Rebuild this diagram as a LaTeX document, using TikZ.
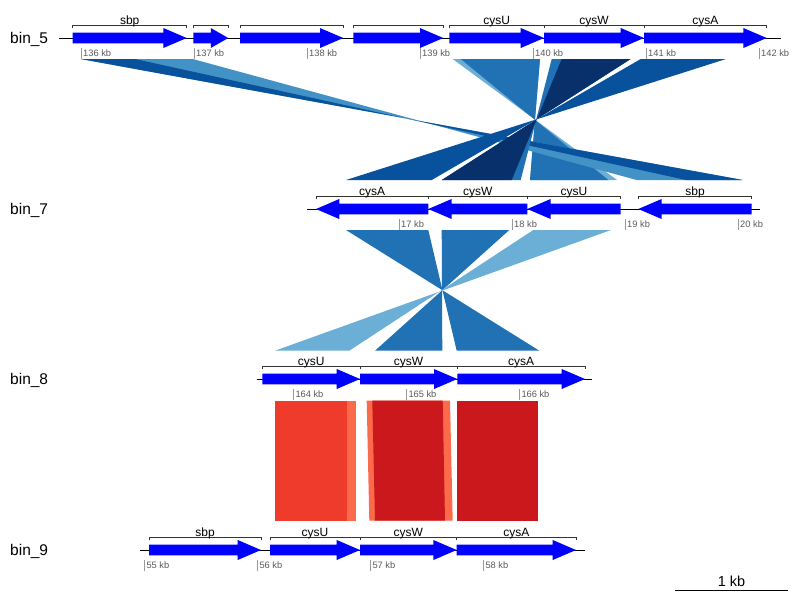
\documentclass[tikz,border=0pt]{standalone}
\usepackage{fontspec}
\setmainfont{Liberation Sans}

\definecolor{genefill}{RGB}{0,0,255}
\definecolor{bluea}{RGB}{8,48,107}
\definecolor{blueb}{RGB}{8,81,156}
\definecolor{bluec}{RGB}{33,113,181}
\definecolor{blued}{RGB}{66,146,198}
\definecolor{bluee}{RGB}{107,174,214}
\definecolor{reda}{RGB}{203,24,29}
\definecolor{redb}{RGB}{239,59,44}
\definecolor{redc}{RGB}{251,106,74}

\begin{document}
\begin{tikzpicture}[x=1pt, y=-1pt,
  trackline/.style={black, line width=0.9pt},
  genebrace/.style={black!80, line width=0.8pt},
  kbtick/.style={black!40, line width=1pt},
  kblabel/.style={anchor=base west, inner sep=0pt, text=black!65, font=\fontsize{9.3}{11}\selectfont},
  genelabel/.style={anchor=base, inner sep=0pt, font=\fontsize{12}{14}\selectfont},
  binlabel/.style={anchor=base west, inner sep=0pt, font=\fontsize{15.5}{18}\selectfont}]
\useasboundingbox (0,0) rectangle (800,600);

% Links bin_5 - bin_7
\fill[bluee] (452.7,59) -- (540,59) -- (530,180) -- (617,180) -- cycle;
\fill[bluec] (460.7,59) -- (540,59) -- (530,180) -- (608.3,180) -- cycle;
\fill[blued] (80.7,59) -- (192.7,59) -- (636.7,180) -- (742.7,180) -- cycle;
\fill[blueb] (80.7,59) -- (135,59) -- (686,180) -- (742.7,180) -- cycle;
\fill[bluec] (551.7,59) -- (630.7,59) -- (442,180) -- (520.7,180) -- cycle;
\fill[bluea] (561.7,59) -- (630.7,59) -- (441.7,180) -- (511.7,180) -- cycle;
\fill[blueb] (640.7,59) -- (726,59) -- (346,180) -- (431.7,180) -- cycle;

% Links bin_7 - bin_8
\fill[bluec] (346,230) -- (428.3,230) -- (456.7,350.7) -- (539.3,350.7) -- cycle;
\fill[bluec] (441.7,230) -- (509.3,230) -- (375,350.7) -- (442.3,350.7) -- cycle;
\fill[bluee] (533.3,230) -- (611,230) -- (275,350.7) -- (349.3,350.7) -- cycle;

% Links bin_8 - bin_9
\fill[redc] (275,400.7) rectangle (355.7,520.7);
\fill[redb] (275,400.7) rectangle (346.7,520.7);
\fill[redc] (366.7,400.7) -- (450,400.7) -- (452.7,520.7) -- (369.3,520.7) -- cycle;
\fill[reda] (372.3,400.7) -- (442.7,400.7) -- (445,520.7) -- (375,520.7) -- cycle;
\fill[reda] (456.7,400.7) rectangle (537.7,520.7);

% bin_5
\def\yy{38}
\node[binlabel] (bin5) at (10,\yy+5.7) {bin\_5};
\draw[trackline] (59.3,\yy) -- (780.7,\yy);
\foreach \a/\b/\lab [count=\i] in {72.7/186.7/sbp, 193.3/228.3/{}, 240/343.3/{}, 353.3/443.3/{}, 449.3/544/cysU, 544/644/cysW, 644/766.7/cysA} {
  \pgfmathsetmacro\h{min(23.3,(\b-\a)/2)}
  \fill[genefill] (\a,\yy-5.3) -- ({\b-\h},\yy-5.3) -- ({\b-\h},\yy-10) -- (\b,\yy) -- ({\b-\h},\yy+10) -- ({\b-\h},\yy+5.3) -- (\a,\yy+5.3) -- cycle;
  \draw[genebrace] (\a,\yy-9.7) -- (\a,\yy-12.3) -- (\b,\yy-12.3) -- (\b,\yy-9.7);
  \node[genelabel] (g5-\i) at ({(\a+\b)/2},\yy-14) {\lab};
}
\foreach \k in {136,...,142} {
  \pgfmathsetmacro\tx{81+113*(\k-136)}
  \draw[kbtick] (\tx,\yy+10.3) -- (\tx,\yy+21.3);
  \node[kblabel] (t5-\k) at (\tx+2,\yy+18.7) {\k{} kb};
}

% bin_7
\def\yy{209}
\node[binlabel] (bin7) at (10,\yy+5.7) {bin\_7};
\draw[trackline] (307,\yy) -- (760,\yy);
\foreach \a/\b/\lab [count=\i] in {316/428.3/cysA, 428.3/527.3/cysW, 527.3/620.7/cysU, 638.3/751.7/sbp} {
  \pgfmathsetmacro\h{min(23.3,(\b-\a)/2)}
  \fill[genefill] (\b,\yy-5.3) -- ({\a+\h},\yy-5.3) -- ({\a+\h},\yy-10) -- (\a,\yy) -- ({\a+\h},\yy+10) -- ({\a+\h},\yy+5.3) -- (\b,\yy+5.3) -- cycle;
  \draw[genebrace] (\a,\yy-9.7) -- (\a,\yy-12.3) -- (\b,\yy-12.3) -- (\b,\yy-9.7);
  \node[genelabel] (g7-\i) at ({(\a+\b)/2},\yy-14) {\lab};
}
\foreach \k in {17,...,20} {
  \pgfmathsetmacro\tx{399+113*(\k-17)}
  \draw[kbtick] (\tx,\yy+10.3) -- (\tx,\yy+21.3);
  \node[kblabel] (t7-\k) at (\tx+2,\yy+18.7) {\k{} kb};
}

% bin_8
\def\yy{379}
\node[binlabel] (bin8) at (10,\yy+5.7) {bin\_8};
\draw[trackline] (256.7,\yy) -- (591.7,\yy);
\foreach \a/\b/\lab [count=\i] in {262.3/360/cysU, 360/457.3/cysW, 457.3/585/cysA} {
  \pgfmathsetmacro\h{min(23.3,(\b-\a)/2)}
  \fill[genefill] (\a,\yy-5.3) -- ({\b-\h},\yy-5.3) -- ({\b-\h},\yy-10) -- (\b,\yy) -- ({\b-\h},\yy+10) -- ({\b-\h},\yy+5.3) -- (\a,\yy+5.3) -- cycle;
  \draw[genebrace] (\a,\yy-9.7) -- (\a,\yy-12.3) -- (\b,\yy-12.3) -- (\b,\yy-9.7);
  \node[genelabel] (g8-\i) at ({(\a+\b)/2},\yy-14) {\lab};
}
\foreach \k in {164,...,166} {
  \pgfmathsetmacro\tx{293.3+113*(\k-164)}
  \draw[kbtick] (\tx,\yy+10.3) -- (\tx,\yy+21.3);
  \node[kblabel] (t8-\k) at (\tx+2,\yy+18.7) {\k{} kb};
}

% bin_9
\def\yy{550}
\node[binlabel] (bin9) at (10,\yy+5.7) {bin\_9};
\draw[trackline] (140,\yy) -- (585,\yy);
\foreach \a/\b/\lab [count=\i] in {149/261/sbp, 270/360/cysU, 360/456.7/cysW, 456.7/576/cysA} {
  \pgfmathsetmacro\h{min(23.3,(\b-\a)/2)}
  \fill[genefill] (\a,\yy-5.3) -- ({\b-\h},\yy-5.3) -- ({\b-\h},\yy-10) -- (\b,\yy) -- ({\b-\h},\yy+10) -- ({\b-\h},\yy+5.3) -- (\a,\yy+5.3) -- cycle;
  \draw[genebrace] (\a,\yy-9.7) -- (\a,\yy-12.3) -- (\b,\yy-12.3) -- (\b,\yy-9.7);
  \node[genelabel] (g9-\i) at ({(\a+\b)/2},\yy-14) {\lab};
}
\foreach \k in {55,...,58} {
  \pgfmathsetmacro\tx{144.3+113*(\k-55)}
  \draw[kbtick] (\tx,\yy+10.3) -- (\tx,\yy+21.3);
  \node[kblabel] (t9-\k) at (\tx+2,\yy+18.7) {\k{} kb};
}

% Scale bar
\coordinate (sbleft) at (675,590);
\coordinate (sbright) at (788,590);
\draw[trackline] (sbleft) -- (sbright);
\node[binlabel, anchor=base, font=\fontsize{14.5}{17}\selectfont] (sbtext) at (731.5,586) {1 kb};
\end{tikzpicture}
\end{document}
